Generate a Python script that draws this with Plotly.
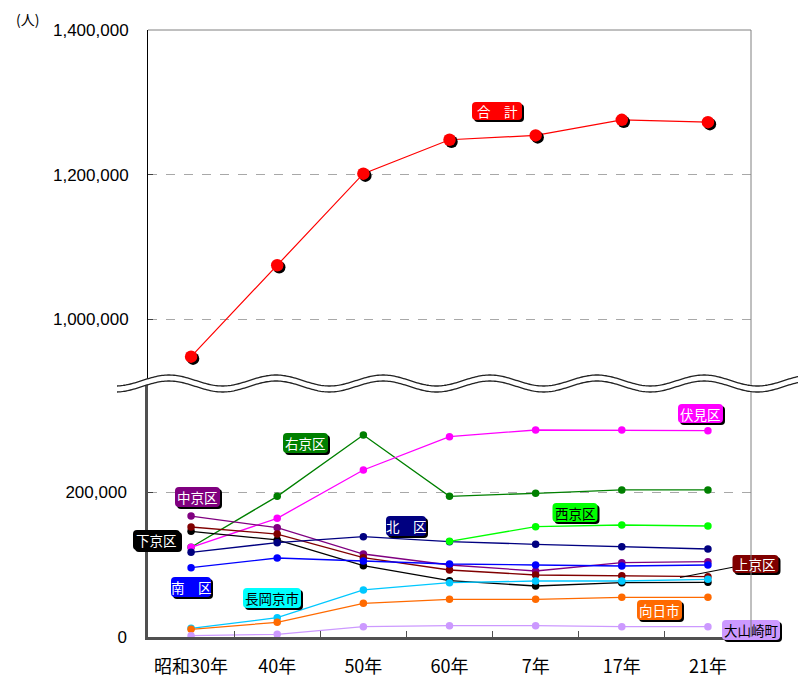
import math
import plotly.graph_objects as go

# ---- data -------------------------------------------------------------
years = ["昭和30年", "40年", "50年", "60年", "7年", "17年", "21年"]

total = [948500, 1074900, 1201400, 1248300, 1254300, 1275900, 1272600]

ukyo = [124000, 194400, 279200, 194400, 198600, 203200, 203200]
fushimi = [123900, 164000, 230800, 276900, 286100, 286100, 285200]
nakagyo = [167200, 151100, 114700, 99500, 91200, 102700, 104100]
shimogyo = [146000, 134100, 98600, 77900, 70500, 75100, 75500]
kamigyo = [152000, 142300, 109600, 92600, 85700, 84800, 83400]
kita = [117000, 130400, 138700, 131800, 128100, 124800, 121600]
minami = [95800, 109200, 105000, 100900, 99500, 98100, 99500]
nishikyo = [None, None, None, 132200, 152500, 154800, 153400]
nagaokakyo = [12000, 26700, 65000, 75100, 77400, 77400, 79700]
muko = [10600, 20300, 46500, 52100, 52100, 54800, 54800]
oyamazaki = [1800, 3700, 14300, 15700, 15700, 14300, 14300]

lower_ticks = [0, 200000]
upper_ticks = [1000000, 1200000, 1400000]

# ---- page geometry ----------------------------------------------------
W, H = 798, 679
ML, MR, MT, MB = 148, 47, 30, 42
PW, PH = W - ML - MR, H - MT - MB
Y_BREAK = 383.5          # pixel row of the axis break
PER_PX = 1382            # persons per pixel on both panels


def px(x):
    return (x - ML) / PW


def py(y):
    return (H - MB - y) / PH


split = py(Y_BREAK)
lower_range = [0, (H - MB - Y_BREAK) * PER_PX]
upper_range = [1400000 - (Y_BREAK - MT) * PER_PX, 1400000]
cat_per_px = 7 / PW

FONT = "Noto Sans CJK JP"

# ---- series styles ----------------------------------------------------
series = [
    (ukyo, "#008000"),
    (fushimi, "#FF00FF"),
    (nakagyo, "#800080"),
    (shimogyo, "#000000"),
    (kamigyo, "#800000"),
    (kita, "#000080"),
    (minami, "#0000FF"),
    (nishikyo, "#00FF00"),
    (nagaokakyo, "#00C8FF"),
    (muko, "#FF6A00"),
    (oyamazaki, "#CC99FF"),
]

fig = go.Figure()

for vals, col in series:
    fig.add_trace(go.Scatter(
        x=years, y=vals, mode="lines+markers", xaxis="x", yaxis="y",
        line=dict(color=col, width=1.3),
        marker=dict(color=col, size=7.5),
        hoverinfo="skip", connectgaps=False,
    ))

# total: red line, drop shadow of the markers, then the red markers on top
fig.add_trace(go.Scatter(
    x=years, y=total, mode="lines", xaxis="x", yaxis="y2",
    line=dict(color="#FF0000", width=1.2), hoverinfo="skip",
))
fig.add_trace(go.Scatter(
    x=years, y=total, mode="markers", xaxis="x2", yaxis="y3",
    marker=dict(color="black", size=12.5), hoverinfo="skip",
))
fig.add_trace(go.Scatter(
    x=years, y=total, mode="markers", xaxis="x3", yaxis="y4",
    marker=dict(color="#FF0000", size=12.5), hoverinfo="skip",
))

# ---- labels -------------------------------------------------------------
labels = [
    ("合　計", "#FF0000", "white", 497, 111, 50, 18),
    ("右京区", "#008000", "white", 305.5, 443, 45, 20),
    ("伏見区", "#FF00FF", "white", 700.5, 413.5, 45, 19),
    ("中京区", "#800080", "white", 197.5, 497, 45, 20),
    ("北　区", "#000080", "white", 406, 526, 40, 20),
    ("下京区", "#000000", "white", 156.5, 540, 47, 20),
    ("西京区", "#00FF00", "black", 575, 512.5, 45, 19),
    ("上京区", "#800000", "white", 755.5, 564, 46, 18),
    ("南　区", "#0000FF", "white", 191, 587, 40, 20),
    ("長岡京市", "#00FFFF", "black", 272, 598, 58, 20),
    ("向日市", "#FF6A00", "white", 659.5, 610, 45, 20),
    ("大山崎町", "#CC99FF", "black", 751, 630, 58, 20),
]


def rrect(w, h, r, dx=0.0, dy=0.0):
    x0, x1 = -w / 2 + dx, w / 2 + dx
    y0, y1 = -h / 2 + dy, h / 2 + dy
    return (f"M{x0 + r},{y0} L{x1 - r},{y0} Q{x1},{y0} {x1},{y0 + r} "
            f"L{x1},{y1 - r} Q{x1},{y1} {x1 - r},{y1} L{x0 + r},{y1} "
            f"Q{x0},{y1} {x0},{y1 - r} L{x0},{y0 + r} Q{x0},{y0} {x0 + r},{y0} Z")


shapes = []
annotations = []

# leader line for 上京区
shapes.append(dict(type="line", xref="paper", yref="paper",
                   x0=px(734), y0=py(567), x1=px(680), y1=py(577.5),
                   line=dict(color="black", width=1.2)))

for text, fill, tcol, cx, cy, w, h in labels:
    common = dict(type="path", xref="paper", yref="paper",
                  xsizemode="pixel", ysizemode="pixel",
                  xanchor=px(cx), yanchor=py(cy), line=dict(width=0))
    shapes.append(dict(common, path=rrect(w, h, 4, 2, -2), fillcolor="black"))
    shapes.append(dict(common, path=rrect(w, h, 4), fillcolor=fill))
    annotations.append(dict(
        text=text, x=px(cx), y=py(cy), xref="paper", yref="paper",
        xanchor="center", yanchor="middle", showarrow=False,
        font=dict(family=FONT, size=13.5, color=tcol),
    ))

# ---- frame ---------------------------------------------------------------
shapes.append(dict(type="line", xref="paper", yref="paper", x0=0, x1=1, y0=1, y1=1,
                   line=dict(color="#808080", width=1)))
shapes.append(dict(type="line", xref="paper", yref="paper", x0=1, x1=1, y0=0, y1=1,
                   line=dict(color="#808080", width=1)))

# ---- wavy break marks ----------------------------------------------------
def wave(yc):
    pts = []
    x = 117.0
    while x <= 800:
        y = yc - 5.5 * math.cos(2 * math.pi * (x - 169) / 107)
        pts.append((px(x), py(y)))
        x += 1.5
    return pts


up_w = wave(Y_BREAK - 3)
lo_w = wave(Y_BREAK + 3)


def to_path(pts, close=False):
    s = "M" + " L".join(f"{a:.5f},{b:.5f}" for a, b in pts)
    return s + (" Z" if close else "")


shapes.append(dict(type="path", xref="paper", yref="paper",
                   path=to_path(up_w + lo_w[::-1], close=True),
                   fillcolor="white", line=dict(width=0)))
for pts in (up_w, lo_w):
    shapes.append(dict(type="path", xref="paper", yref="paper", path=to_path(pts),
                       line=dict(color="#222222", width=1.3)))

annotations.append(dict(text="(人)", x=px(27), y=py(19), xref="paper", yref="paper",
                        xanchor="center", yanchor="middle", showarrow=False,
                        font=dict(family=FONT, size=14, color="black")))

tick_font = dict(family="Liberation Sans", size=17, color="black")
grid = dict(showgrid=True, gridcolor="#a8a8a8", griddash="dash", gridwidth=1)

fig.update_layout(
    width=W, height=H,
    margin=dict(l=ML, r=MR, t=MT, b=MB, pad=0, autoexpand=False),
    paper_bgcolor="white", plot_bgcolor="white",
    showlegend=False,
    font=dict(family=FONT, color="black"),
    xaxis=dict(type="category", categoryorder="array", categoryarray=years,
               range=[-0.5, 6.5], domain=[0, 1], anchor="y", automargin=False,
               showline=True, linecolor="#505050", linewidth=2.5,
               ticks="inside", ticklen=6, tickcolor="#505050", tickwidth=1,
               tickson="boundaries", showgrid=False, zeroline=False,
               tickfont=dict(family=FONT, size=18, color="black"),
               ticklabelstandoff=12),
    yaxis=dict(domain=[0, split], range=lower_range, anchor="x", automargin=False,
               tickvals=lower_ticks, tickformat=",",
               showline=True, linecolor="#505050", linewidth=2.5,
               ticks="inside", ticklen=5, tickcolor="#404040",
               zeroline=False, tickfont=tick_font, ticklabelstandoff=15, **grid),
    yaxis2=dict(domain=[split, 1], range=upper_range, anchor="x", automargin=False,
                tickvals=upper_ticks, tickformat=",",
                showline=True, linecolor="black", linewidth=1,
                ticks="inside", ticklen=5, tickcolor="#404040",
                zeroline=False, tickfont=tick_font, ticklabelstandoff=15, **grid),
    # shadow axes: shifted 2px right and 2px down
    xaxis2=dict(type="category", categoryorder="array", categoryarray=years,
                overlaying="x", anchor="y3", visible=False,
                range=[-0.5 - 2 * cat_per_px, 6.5 - 2 * cat_per_px]),
    yaxis3=dict(overlaying="y2", anchor="x2", visible=False,
                range=[upper_range[0] + 2 * PER_PX, upper_range[1] + 2 * PER_PX]),
    xaxis3=dict(type="category", categoryorder="array", categoryarray=years,
                overlaying="x", anchor="y4", visible=False, range=[-0.5, 6.5]),
    yaxis4=dict(overlaying="y2", anchor="x3", visible=False, range=upper_range),
    shapes=shapes,
    annotations=annotations,
)

fig.write_html("out.html")
